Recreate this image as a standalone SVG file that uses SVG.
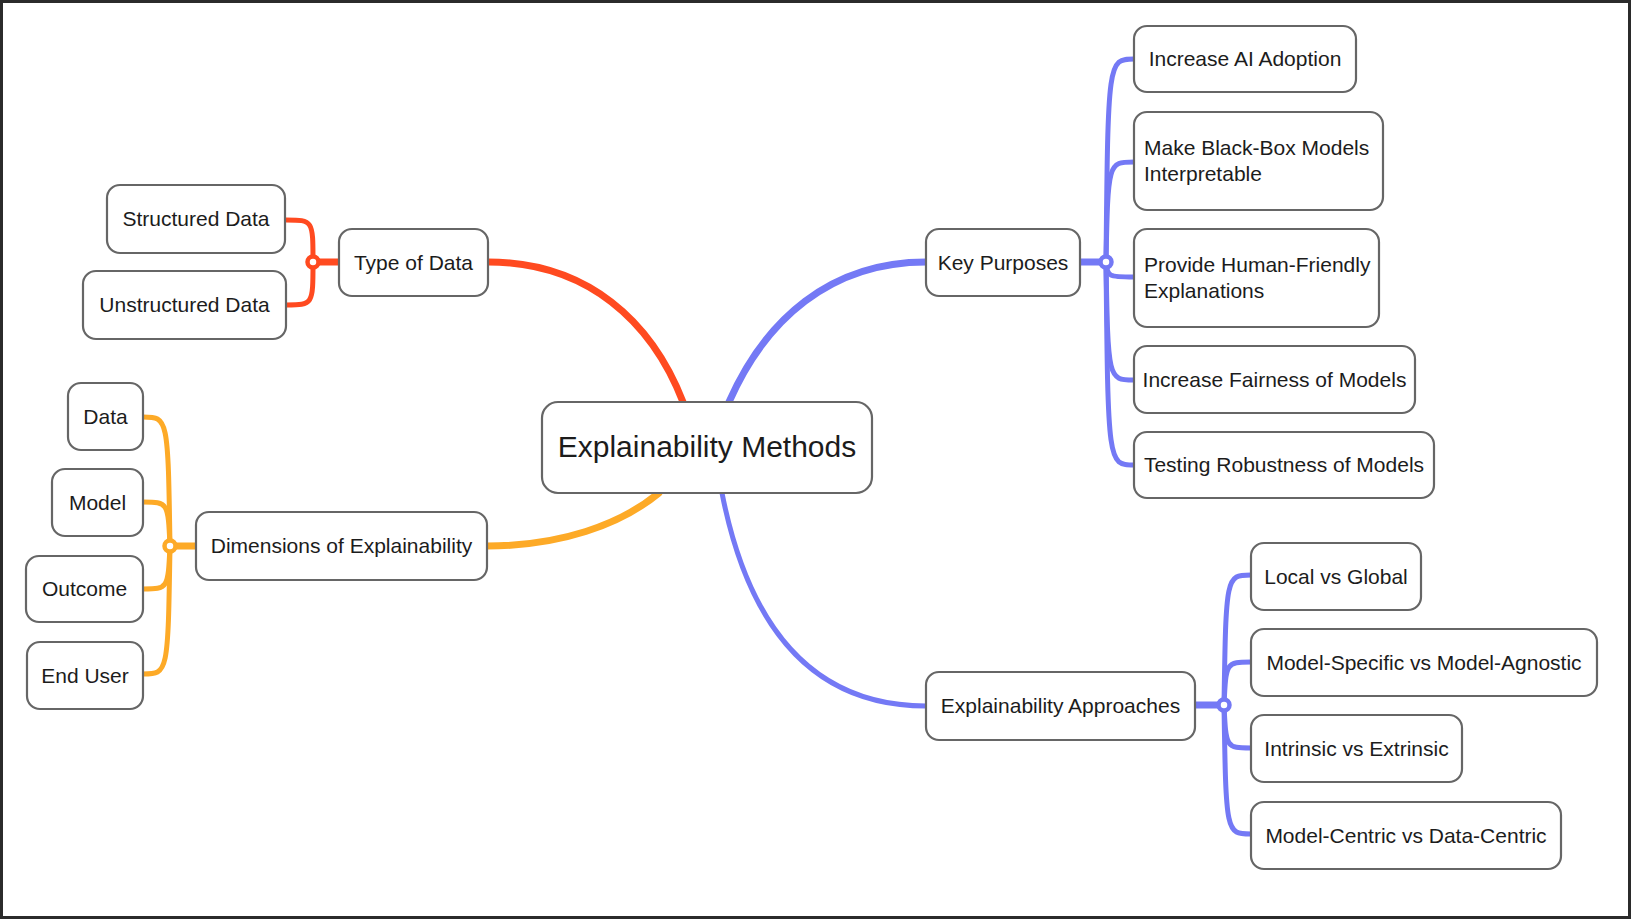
<svg xmlns="http://www.w3.org/2000/svg" width="1631" height="919" viewBox="0 0 1631 919">
<style>
.box{fill:#fff;stroke:#666;stroke-width:2.2}
.t{font-family:"Liberation Sans",Arial,sans-serif;font-size:21px;fill:#1c1c1c}
.c{text-anchor:middle}
.red{stroke:#FF4A20;fill:none;stroke-linecap:round}
.ora{stroke:#FDAA27;fill:none;stroke-linecap:round}
.blu{stroke:#7479F5;fill:none;stroke-linecap:round}
.main{stroke-width:7}
.thin{stroke-width:5}
.sub{stroke-width:5}
.jr{fill:#fff;stroke:#FF4A20;stroke-width:4.5}
.jo{fill:#fff;stroke:#FDAA27;stroke-width:4.5}
.jb{fill:#fff;stroke:#7479F5;stroke-width:4.5}
</style>
<rect x="0" y="0" width="1631" height="919" fill="#fff"/>
<rect x="1.5" y="1.5" width="1628" height="916" fill="none" stroke="#2b2b2b" stroke-width="3"/>

<g id="connectors">
  <!-- central to branches -->
  <path class="red main" d="M488,262 C588,262 652,322 683,402"/>
  <path class="blu main" d="M729,402 C765,320 830,262 926,262"/>
  <path class="ora main" d="M659,493 C620,525 560,546 487,546"/>
  <path class="blu thin" d="M722,493 C745,610 800,706 926,706"/>
  <!-- Type of Data -->
  <path class="red main" d="M313,262 L339,262"/>
  <path class="red sub" d="M313,262 C313,220 313,220 286,220"/>
  <path class="red sub" d="M313,262 C313,305 313,305 286,305"/>
  <!-- Dimensions -->
  <path class="ora main" d="M170,546 L196,546"/>
  <path class="ora sub" d="M170,546 C168,417 168,417 143,417"/>
  <path class="ora sub" d="M170,546 C168,502 168,502 143,502"/>
  <path class="ora sub" d="M170,546 C168,589 168,589 143,589"/>
  <path class="ora sub" d="M170,546 C168,674 168,674 143,674"/>
  <!-- Key Purposes -->
  <path class="blu main" d="M1080,262 L1106,262"/>
  <path class="blu sub" d="M1106,262 C1108,59 1108,59 1134,59"/>
  <path class="blu sub" d="M1106,262 C1108,162 1108,162 1134,162"/>
  <path class="blu sub" d="M1106,262 C1108,277 1108,277 1134,277"/>
  <path class="blu sub" d="M1106,262 C1108,380 1108,380 1134,380"/>
  <path class="blu sub" d="M1106,262 C1108,465 1108,465 1134,465"/>
  <!-- Explainability Approaches -->
  <path class="blu main" d="M1195,705 L1224,705"/>
  <path class="blu sub" d="M1224,705 C1226,575 1226,575 1251,575"/>
  <path class="blu sub" d="M1224,705 C1226,662 1226,662 1251,662"/>
  <path class="blu sub" d="M1224,705 C1226,748 1226,748 1251,748"/>
  <path class="blu sub" d="M1224,705 C1226,834 1226,834 1251,834"/>
  <!-- junctions -->
  <circle class="jr" cx="313" cy="262" r="5.5"/>
  <circle class="jo" cx="170" cy="546" r="5.5"/>
  <circle class="jb" cx="1106" cy="262" r="5.5"/>
  <circle class="jb" cx="1224" cy="705" r="5.5"/>
</g>

<g id="n-central">
  <rect class="box" x="542" y="402" width="330" height="91" rx="16"/>
  <text class="t c" x="707" y="457" style="font-size:30px">Explainability Methods</text>
</g>
<g id="n-typeofdata">
  <rect class="box" x="339" y="229" width="149" height="67" rx="13"/>
  <text class="t c" x="413.5" y="270">Type of Data</text>
</g>
<g id="n-structured">
  <rect class="box" x="107" y="185" width="178" height="68" rx="13"/>
  <text class="t c" x="196" y="226">Structured Data</text>
</g>
<g id="n-unstructured">
  <rect class="box" x="83" y="271" width="203" height="68" rx="13"/>
  <text class="t c" x="184.5" y="312">Unstructured Data</text>
</g>
<g id="n-dimensions">
  <rect class="box" x="196" y="512" width="291" height="68" rx="13"/>
  <text class="t c" x="341.5" y="553">Dimensions of Explainability</text>
</g>
<g id="n-data">
  <rect class="box" x="68" y="383" width="75" height="67" rx="13"/>
  <text class="t c" x="105.5" y="424">Data</text>
</g>
<g id="n-model">
  <rect class="box" x="52" y="469" width="91" height="67" rx="13"/>
  <text class="t c" x="97.5" y="510">Model</text>
</g>
<g id="n-outcome">
  <rect class="box" x="26" y="556" width="117" height="66" rx="13"/>
  <text class="t c" x="84.5" y="596">Outcome</text>
</g>
<g id="n-enduser">
  <rect class="box" x="27" y="642" width="116" height="67" rx="13"/>
  <text class="t c" x="85" y="683">End User</text>
</g>
<g id="n-keypurposes">
  <rect class="box" x="926" y="229" width="154" height="67" rx="13"/>
  <text class="t c" x="1003" y="270">Key Purposes</text>
</g>
<g id="n-adoption">
  <rect class="box" x="1134" y="26" width="222" height="66" rx="13"/>
  <text class="t c" x="1245" y="66">Increase AI Adoption</text>
</g>
<g id="n-blackbox">
  <rect class="box" x="1134" y="112" width="249" height="98" rx="13"/>
  <text class="t" x="1144" y="155">Make Black-Box Models</text>
  <text class="t" x="1144" y="181">Interpretable</text>
</g>
<g id="n-humanfriendly">
  <rect class="box" x="1134" y="229" width="245" height="98" rx="13"/>
  <text class="t" x="1144" y="272">Provide Human-Friendly</text>
  <text class="t" x="1144" y="298">Explanations</text>
</g>
<g id="n-fairness">
  <rect class="box" x="1134" y="346" width="281" height="67" rx="13"/>
  <text class="t c" x="1274.5" y="387">Increase Fairness of Models</text>
</g>
<g id="n-robustness">
  <rect class="box" x="1134" y="432" width="300" height="66" rx="13"/>
  <text class="t c" x="1284" y="472">Testing Robustness of Models</text>
</g>
<g id="n-approaches">
  <rect class="box" x="926" y="672" width="269" height="68" rx="13"/>
  <text class="t c" x="1060.5" y="713">Explainability Approaches</text>
</g>
<g id="n-localglobal">
  <rect class="box" x="1251" y="543" width="170" height="67" rx="13"/>
  <text class="t c" x="1336" y="584">Local vs Global</text>
</g>
<g id="n-specific">
  <rect class="box" x="1251" y="629" width="346" height="67" rx="13"/>
  <text class="t c" x="1424" y="670">Model-Specific vs Model-Agnostic</text>
</g>
<g id="n-intrinsic">
  <rect class="box" x="1251" y="715" width="211" height="67" rx="13"/>
  <text class="t c" x="1356.5" y="756">Intrinsic vs Extrinsic</text>
</g>
<g id="n-centric">
  <rect class="box" x="1251" y="802" width="310" height="67" rx="13"/>
  <text class="t c" x="1406" y="843">Model-Centric vs Data-Centric</text>
</g>
</svg>
